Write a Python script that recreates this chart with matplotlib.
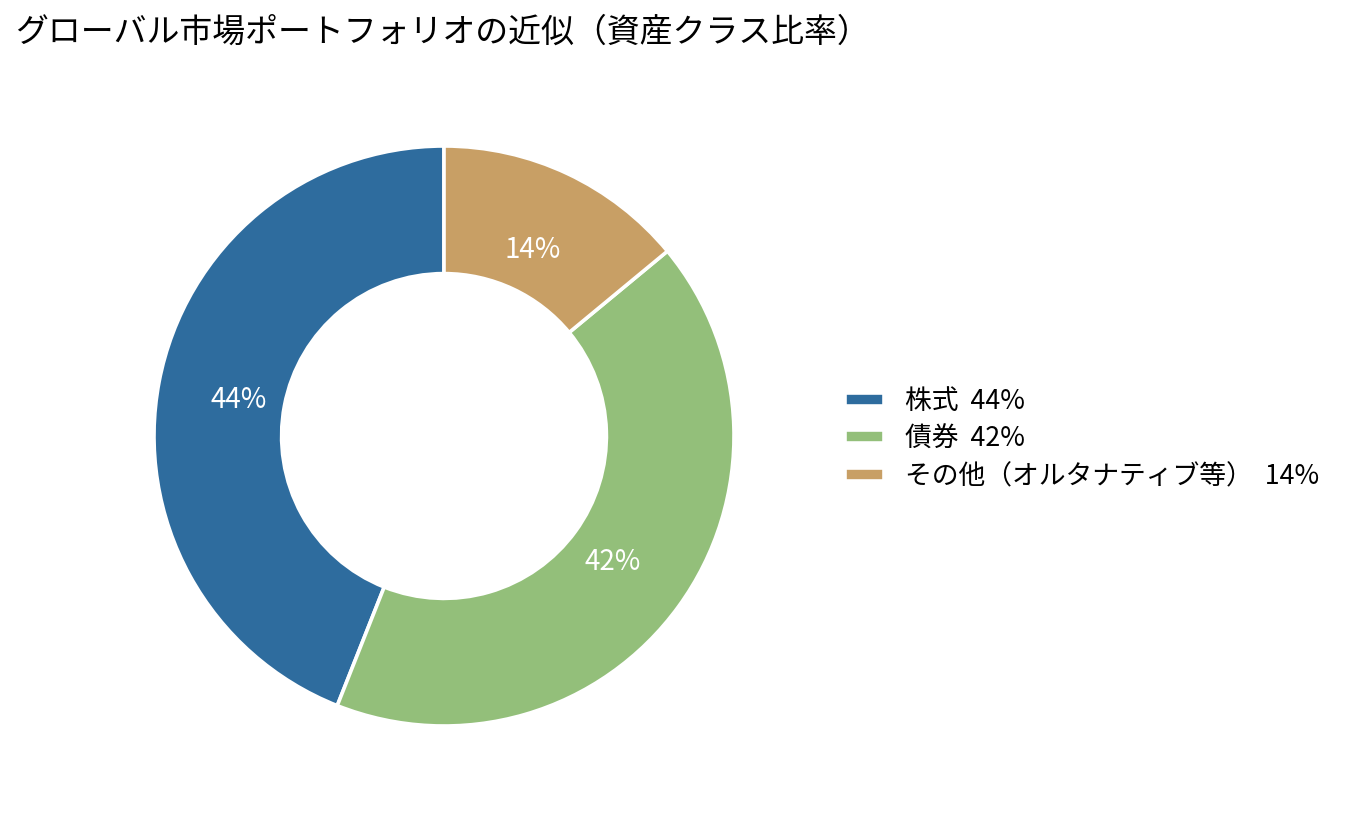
import matplotlib.pyplot as plt
from matplotlib.transforms import offset_copy

plt.rcParams['font.family'] = ['Noto Sans CJK JP', 'DejaVu Sans']

# asset class shares (%)
labels = ['株式', '債券', 'その他（オルタナティブ等）']
shares = [44, 42, 14]
colors = ['#2e6c9e', '#93bf7a', '#c89f65']
title = 'グローバル市場ポートフォリオの近似（資産クラス比率）'

W, H = 1346, 816
fig = plt.figure(figsize=(W / 100, H / 100), dpi=100)

# donut centre ~ (444, 435) px, outer radius ~ 290 px
cx, cy, r = 444, 436, 290
ax = fig.add_axes([(cx - r) / W, (H - cy - r) / H, 2 * r / W, 2 * r / H])

wedges, texts, autotexts = ax.pie(
    shares, colors=colors, startangle=90, counterclock=True,
    autopct='%d%%', pctdistance=0.72,
    wedgeprops=dict(width=0.44, edgecolor='white', linewidth=2.6),
    textprops=dict(color='white', fontsize=20))
# nudge the % labels down a touch
for t in autotexts:
    t.set_transform(offset_copy(ax.transData, fig=fig, x=0, y=-3, units='dots'))
ax.set_xlim(-1.0, 1.0)
ax.set_ylim(-1.0, 1.0)
ax.set_aspect('equal')

fig.text(15 / W, 1 - 33 / H, title, fontsize=23.7, ha='left', va='center')

leg_labels = [f'{n}  {v}%' for n, v in zip(labels, shares)]
fig.legend(wedges, leg_labels, loc='center left',
           bbox_to_anchor=(845 / W, 1 - 439 / H), frameon=False,
           fontsize=19.3, borderpad=0, borderaxespad=0,
           handlelength=1.45, handleheight=0.37, handletextpad=0.78,
           labelspacing=0.4)

fig.savefig('out.png', dpi=100)
